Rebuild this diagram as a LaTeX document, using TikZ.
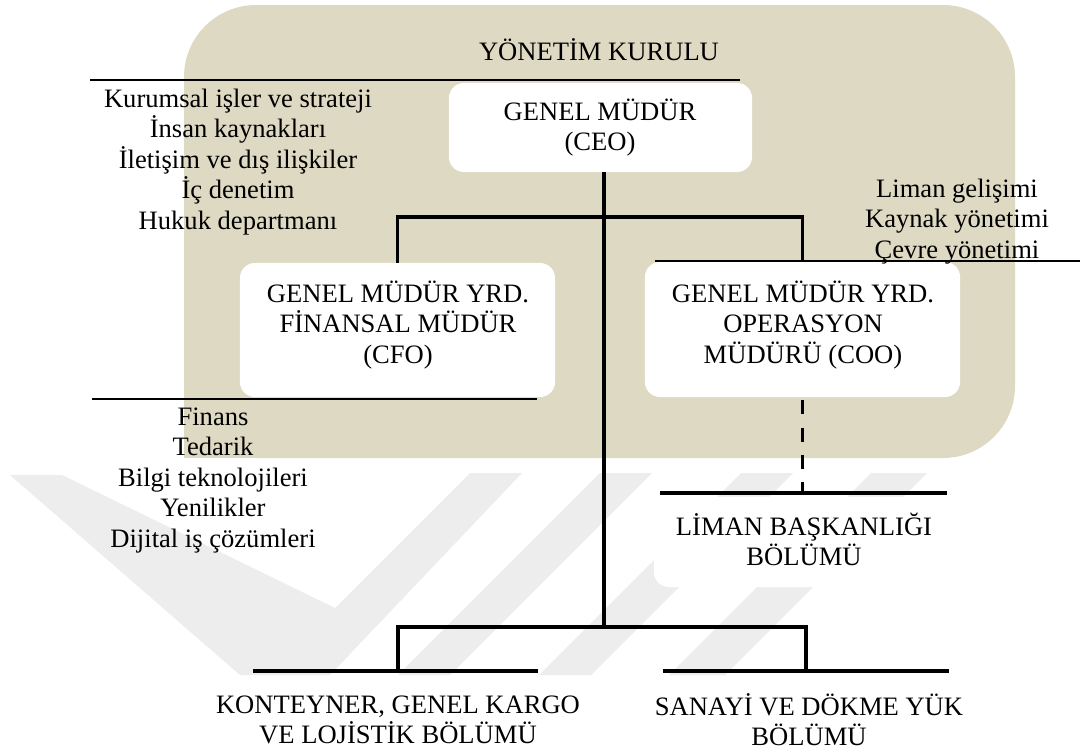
\documentclass[tikz,border=0pt]{standalone}
\usepackage{fontspec}
\setmainfont{Liberation Serif}
\definecolor{panel}{RGB}{221,217,195}
\definecolor{markgray}{RGB}{237,237,237}
% centred stack of lines whose baseline is the first line's baseline
\newcommand\lines[1]{\vtop{\halign{\hfil##\hfil\cr#1\crcr}}}

\begin{document}
\begin{tikzpicture}[x=0.025cm, y=-0.025cm,
  txt/.style={inner sep=0pt, anchor=base, font=\fontsize{18.9pt}{21.7pt}\selectfont},
  card/.style={fill=white, rounded corners=0.375cm, inner sep=0pt},
  heavy/.style={line width=2.5pt},
  thinrule/.style={line width=1.5pt},
  dashlink/.style={line width=2.5pt, dash pattern=on 10pt off 9.5pt, dash phase=17.5pt}]

\useasboundingbox (0,0) rectangle (1080,751);
\fill[white] (0,0) rectangle (1080,751);

% faint background emblem
\begin{scope}[markgray]
  \fill (10,475) -- (62,475) -- (335,608) -- (470,473) -- (522,473) -- (330,675) -- (240,675) -- cycle;
  \fill (600,473) -- (652,473) -- (450,675) -- (398,675) -- cycle;
  \fill (741,473) -- (793,473) -- (591,675) -- (539,675) -- cycle;
  \fill (871,473) -- (927,473) -- (725,675) -- (669,675) -- cycle;
\end{scope}

% board panel (square lower-left corner)
\fill[panel, rounded corners=1.8cm] (184,5) rectangle (1015,458);
\fill[panel] (184,380) rectangle (280,458);

% boxes
\node[card, minimum width=7.575cm, minimum height=2.225cm] (ceo) at (600.5,127.5) {};
\node[card, minimum width=7.875cm, minimum height=3.35cm] (cfo) at (397.5,330) {};
\node[card, minimum width=7.875cm, minimum height=3.375cm] (coo) at (802.5,329.5) {};
\node[card, minimum width=7.35cm, minimum height=2.25cm] (liman) at (801,542) {};

% reference points of the hierarchy
\coordinate (hub) at (604,217);
\coordinate (foot) at (604,627);
\coordinate (kont) at (398,671);
\coordinate (sana) at (806,671);
\coordinate (kontL) at (253,671);
\coordinate (kontR) at (538,671);
\coordinate (sanaL) at (663,671);
\coordinate (sanaR) at (949,671);
\coordinate (limL) at (660,493);
\coordinate (limR) at (947,493);
\coordinate (boardL) at (90,80);
\coordinate (boardR) at (740,80);
\coordinate (finL) at (92,399);
\coordinate (finR) at (537,399);
\coordinate (opsL) at (655,261);
\coordinate (opsR) at (1080,261);

% thin rules
\draw[thinrule] (boardL) -- (boardR);
\draw[thinrule] (finL) -- (finR);
\draw[thinrule] (opsL) -- (opsR);

% connectors
\draw[heavy] (ceo.south -| hub) -- (foot);
\draw[heavy] (cfo.north) |- (hub) -| (coo.north);
\draw[heavy] (kont) |- (foot) -| (sana);
\draw[heavy] (kontL) -- (kontR);
\draw[heavy] (sanaL) -- (sanaR);
\draw[heavy] (limL) -- (limR);
\draw[dashlink] (coo.south) -- (coo.south |- limL);

% texts
\node[txt] (board) at (599,60) {YÖNETİM KURULU};
\node[txt] (ceotxt) at (600,120) {\lines{GENEL MÜDÜR\cr (CEO)}};
\node[txt] (corp) at (238,107) {\lines{Kurumsal işler ve strateji\cr İnsan kaynakları\cr İletişim ve dış ilişkiler\cr İç denetim\cr Hukuk departmanı}};
\node[txt] (cfotxt) at (398,302) {\lines{GENEL MÜDÜR YRD.\cr FİNANSAL MÜDÜR\cr (CFO)}};
\node[txt] (cootxt) at (803,302) {\lines{GENEL MÜDÜR YRD.\cr OPERASYON\cr MÜDÜRÜ (COO)}};
\node[txt] (ops) at (957,197) {\lines{Liman gelişimi\cr Kaynak yönetimi\cr Çevre yönetimi}};
\node[txt] (fin) at (213,425) {\lines{Finans\cr Tedarik\cr Bilgi teknolojileri\cr Yenilikler\cr Dijital iş çözümleri}};
\node[txt] (limtxt) at (804,535) {\lines{LİMAN BAŞKANLIĞI\cr BÖLÜMÜ}};
\node[txt] (konttxt) at (398,713) {\lines{KONTEYNER, GENEL KARGO\cr VE LOJİSTİK BÖLÜMÜ}};
\node[txt] (sanatxt) at (809,715) {\lines{SANAYİ VE DÖKME YÜK\cr BÖLÜMÜ}};
\end{tikzpicture}
\end{document}
